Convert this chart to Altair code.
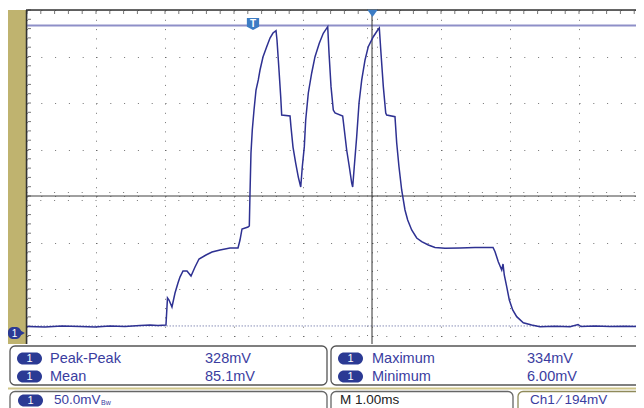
import altair as alt
import pandas as pd

FONT = "Liberation Sans"
BLUE_TXT = "#3A3D9F"
BADGE = "#2B3A94"
WAVE = "#2E3192"
MARK_BLUE = "#3C7CC4"
OLIVE = "#BFB36F"

# ---- waveform (time in ms from left edge of screen, voltage in mV) ----
t_ms = [0.000, 0.261, 0.507, 0.768, 0.986, 1.203, 1.420, 1.638, 1.783, 1.899, 2.014,
        2.036, 2.058, 2.101, 2.145, 2.188, 2.217, 2.261, 2.319, 2.377, 2.435, 2.493,
        2.594, 2.681, 2.797, 2.942, 3.058, 3.087, 3.116, 3.203, 3.222, 3.232, 3.246,
        3.265, 3.290, 3.319, 3.352, 3.377, 3.420, 3.474, 3.522, 3.565, 3.609, 3.623,
        3.652, 3.677, 3.691, 3.812, 3.826, 3.855, 3.894, 3.932, 3.967, 3.990, 4.019,
        4.039, 4.077, 4.126, 4.174, 4.236, 4.294, 4.358, 4.377, 4.406, 4.439, 4.464,
        4.575, 4.599, 4.633, 4.671, 4.706, 4.720, 4.743, 4.778, 4.812, 4.851, 4.899,
        4.946, 5.019, 5.083, 5.106, 5.130, 5.164, 5.199, 5.213, 5.333, 5.358, 5.391,
        5.430, 5.478, 5.517, 5.575, 5.648, 5.720, 5.816, 5.913, 6.058, 6.275, 6.493,
        6.754, 6.783, 6.830, 6.880, 6.899, 6.917, 6.952, 6.990, 7.039, 7.097, 7.193,
        7.314, 7.435, 7.652, 7.870, 7.986, 8.029, 8.232, 8.449, 8.667, 8.826]
v_mv = [5.9, 5.4, 6.5, 5.9, 5.4, 6.5, 5.9, 7.0, 7.5, 7.0, 7.5,
        36.6, 34.4, 26.9, 41.9, 52.7, 59.1, 65.6, 65.6, 60.2, 69.9, 78.5,
        82.8, 86.0, 88.2, 90.3, 90.3, 98.9, 110.8, 112.9, 114.0, 149.5, 192.5,
        217.2, 238.7, 260.2, 271.0, 281.7, 295.7, 306.8, 316.1, 321.5, 324.0, 314.0,
        281.7, 253.0, 233.3, 232.3, 220.4, 198.9, 181.7, 166.6, 155.9, 177.7, 199.3,
        228.0, 257.0, 278.5, 296.0, 310.4, 321.2, 328.3, 300.0, 263.8, 238.7, 235.5,
        232.3, 217.2, 195.7, 177.7, 160.2, 155.9, 177.7, 210.0, 246.2, 271.0, 292.5,
        306.8, 317.5, 324.7, 326.9, 300.0, 263.8, 235.5, 233.3, 231.5, 203.2, 177.7,
        152.7, 131.2, 120.4, 109.7, 101.1, 97.1, 93.6, 90.9, 90.0, 90.3, 90.9,
        90.9, 86.3, 75.6, 66.7, 73.1, 61.3, 48.7, 34.4, 23.7, 16.5, 10.0,
        7.5, 5.7, 6.1, 5.6, 8.1, 5.9, 6.5, 5.8, 6.2, 5.9]

# ---- graticule ----
div_t = [0, 1, 2, 3, 4, 5, 6, 7, 8]
div_v = [346.24, 296.24, 246.24, 196.24, 146.24, 96.24, 46.24, -3.76, -53.76]
center_t = [5.0]
center_v = [146.24]
cursor_v = [329.6]
ref_v = [6.5]
minor_t = [round(0.2 * i, 1) for i in range(45)]
minor_v = [round(346.24 - 10 * i, 2) for i in range(41)]

# ---- readouts ----
meas_names = ["Peak-Peak", "Mean", "Maximum", "Minimum"]
meas_values = ["328mV", "85.1mV", "334mV", "6.00mV"]
status_texts = ["50.0mV", "M 1.00ms", "Ch1 \u2044 194mV"]
channel_label = "1"

XS = alt.Scale(domain=[0, 8.826], nice=False, zero=False)
YS = alt.Scale(domain=[-53.76, 346.24], nice=False, zero=False)
XA = alt.Axis(values=div_t, grid=True, gridDash=[1, 8.3], gridColor="#5a5a5a", gridOpacity=0.85,
              labels=False, ticks=False, domain=False, title=None)
YA = alt.Axis(values=div_v, grid=True, gridDash=[1, 12.8], gridColor="#5a5a5a", gridOpacity=0.85,
              labels=False, ticks=False, domain=False, title=None)

OX, OY = 27, 10  # page position of plot origin
ONE = pd.DataFrame({"k": [0]})


def X(f="t"):
    return alt.X(f"{f}:Q", scale=XS, axis=XA)


def Y(f="v"):
    return alt.Y(f"{f}:Q", scale=YS, axis=YA)


def box(x0, y0, x1, y1, **kw):
    return alt.Chart(ONE).mark_rect(**kw).encode(
        x=alt.value(x0 - OX), x2=alt.value(x1 - OX), y=alt.value(y0 - OY), y2=alt.value(y1 - OY))


def label(txt, x, y, size=14.5, color=BLUE_TXT, align="left", weight="normal"):
    return alt.Chart(ONE).mark_text(text=txt, fontSize=size, color=color, align=align,
                                    baseline="middle", font=FONT, fontWeight=weight).encode(
        x=alt.value(x - OX), y=alt.value(y - OY))


def badge(cx, cy):
    return [box(cx - 12.5, cy - 6, cx + 12.5, cy + 6, color=BADGE, cornerRadius=6),
            label(channel_label, cx, cy + 0.5, size=11, color="white", align="center")]


wave_df = pd.DataFrame({"t": t_ms, "v": v_mv})
mt_df = pd.DataFrame({"t": minor_t})
mv_df = pd.DataFrame({"v": minor_v})

layers = []
# frame ticks
layers.append(alt.Chart(mt_df).mark_rule(color="#777", strokeWidth=1).encode(
    x=X(), y=alt.value(1), y2=alt.value(4)))
layers.append(alt.Chart(mv_df).mark_rule(color="#777", strokeWidth=1).encode(
    y=Y(), x=alt.value(1), x2=alt.value(4)))
# center ticks
layers.append(alt.Chart(mt_df).mark_rule(color="#777", strokeWidth=1, strokeDash=[1, 7]).encode(
    x=X(), y=alt.value(192 - OY), y2=alt.value(201 - OY)))
layers.append(alt.Chart(mv_df).mark_rule(color="#777", strokeWidth=1, strokeDash=[1, 9]).encode(
    y=Y(), x=alt.value(367 - OX), x2=alt.value(378 - OX)))
# reference dotted line and cursor
layers.append(alt.Chart(pd.DataFrame({"v": ref_v})).mark_rule(
    color="#8A90B8", strokeWidth=1, strokeDash=[1.5, 1.5]).encode(y=Y()))
layers.append(alt.Chart(pd.DataFrame({"v": cursor_v})).mark_rule(
    color="#8E8FC8", strokeWidth=2).encode(y=Y()))
# center cross
layers.append(alt.Chart(pd.DataFrame({"v": center_v})).mark_rule(
    color="#404040", strokeWidth=1).encode(y=Y()))
layers.append(alt.Chart(pd.DataFrame({"t": center_t})).mark_rule(
    color="#303030", strokeWidth=1).encode(x=X()))
# waveform
layers.append(alt.Chart(wave_df).mark_line(color=WAVE, strokeWidth=1.5).encode(x=X(), y=Y()))

# left olive bar and borders
layers.append(box(8, 10, 26, 345, color=OLIVE))
layers.append(alt.Chart(ONE).mark_rule(color="#333", strokeWidth=1.5).encode(
    x=alt.value(26.5 - OX), y=alt.value(10 - OY), y2=alt.value(345 - OY)))
layers.append(alt.Chart(ONE).mark_rule(color="#333", strokeWidth=1.5).encode(
    x=alt.value(26 - OX), x2=alt.value(644 - OX), y=alt.value(10 - OY)))

# trigger markers
layers.append(alt.Chart(ONE).mark_point(
    shape="M -1 -1 L 1 -1 L 1 0.45 L 0 1 L -1 0.45 Z", size=150, filled=True,
    color=MARK_BLUE, opacity=1).encode(x=alt.value(253 - OX), y=alt.value(24 - OY)))
layers.append(label("T", 253, 23.5, size=10, color="white", align="center", weight="bold"))
layers.append(alt.Chart(ONE).mark_point(
    shape="M -1 -1 L 1 -1 L 0 0.4 Z", size=110, filled=True,
    color=MARK_BLUE, opacity=1).encode(x=alt.value(372.5 - OX), y=alt.value(15 - OY)))

# ground marker
layers.append(box(8, 327, 21, 339, color=BADGE, cornerRadius=5))
layers.append(alt.Chart(ONE).mark_point(shape="triangle-right", size=45, filled=True,
                                        color=BADGE, opacity=1).encode(
    x=alt.value(22 - OX), y=alt.value(333 - OY)))
layers.append(label(channel_label, 14.5, 333.5, size=10, color="white", align="center"))

# readout area
layers.append(box(8, 344, 650, 420, color="white"))
layers.append(box(10, 346, 327, 385, fill="white", stroke="#555", strokeWidth=1.3, cornerRadius=5))
layers.append(box(331, 346, 660, 385, fill="white", stroke="#555", strokeWidth=1.3, cornerRadius=5))
layers.append(box(8, 387.5, 650, 389.5, color="#CFC58A"))
layers.append(box(10, 391.5, 327, 430, fill="white", stroke="#666", strokeWidth=1.3, cornerRadius=5))
layers.append(box(331, 391.5, 513, 430, fill="white", stroke="#666", strokeWidth=1.3, cornerRadius=5))
layers.append(box(518, 391.5, 660, 430, fill="white", stroke="#8f8a5a", strokeWidth=1.3, cornerRadius=5))

layers += badge(29.5, 358.5) + badge(29.5, 376.5) + badge(350.5, 358.5) + badge(350.5, 376.5)
layers.append(label(meas_names[0], 50, 359))
layers.append(label(meas_names[1], 50, 377))
layers.append(label(meas_values[0], 205, 359))
layers.append(label(meas_values[1], 205, 377))
layers.append(label(meas_names[2], 372, 359))
layers.append(label(meas_names[3], 372, 377))
layers.append(label(meas_values[2], 527, 359))
layers.append(label(meas_values[3], 527, 377))

layers += badge(30.5, 400.5)
layers.append(label(status_texts[0], 54, 400, size=13.5))
layers.append(label("Bw", 101, 403, size=7))
layers.append(label(status_texts[1], 340, 400, size=13.5, color="#222"))
layers.append(label(status_texts[2], 530, 400, size=13.5))

chart = alt.layer(*layers).properties(
    width=609, height=372,
    padding={"left": 19, "top": 2, "right": 0, "bottom": 26},
    autosize=alt.AutoSizeParams(type="none"),
).configure_view(stroke=None, fill="#F5F7F3").configure(background="white")

chart.save("out.html", embed_options={"renderer": "svg", "actions": False})
